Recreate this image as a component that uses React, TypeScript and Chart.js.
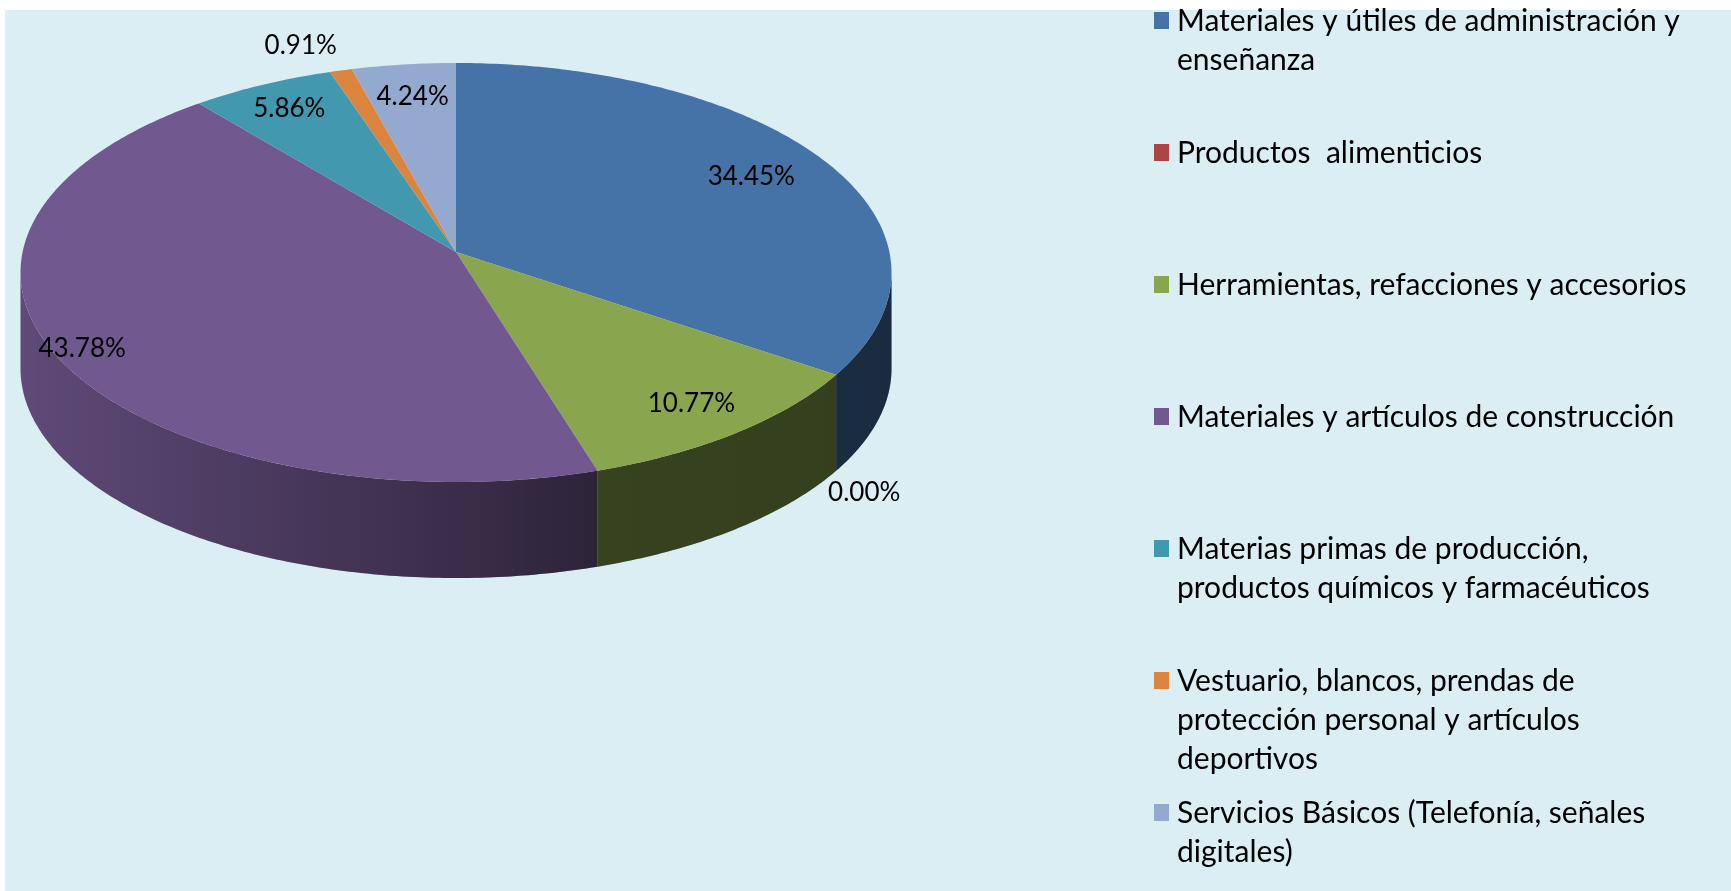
import React, { useEffect, useRef } from "react";
import { Chart, registerables } from "chart.js";
Chart.register(...registerables);

const categories: string[][] = [
  ["Materiales y útiles de administración y", "enseñanza"],
  ["Productos  alimenticios"],
  ["Herramientas, refacciones y accesorios"],
  ["Materiales y artículos de construcción"],
  ["Materias primas de producción,", "productos químicos y farmacéuticos"],
  ["Vestuario, blancos, prendas de", "protección personal y artículos", "deportivos"],
  ["Servicios Básicos (Telefonía, señales", "digitales)"],
];
const values = [34.45, 0.0, 10.77, 43.78, 5.86, 0.91, 4.24];
const topColors = ["#4572A7", "#AA4643", "#89A54E", "#71588F", "#4198AF", "#DB843D", "#93A9CF"];

// projection parameters (3D tilt + perspective)
const K = -0.0979;
const SX = 433.4 / 240;
const SY = 207.5 / 240;
const DEPTH = 96;
const LABEL_FONT = "26px Lato";
const LEGEND_FONT = "30px Lato";

function proj(cx: number, cy: number, r: number, ang: number, f: number): [number, number] {
  const u = Math.cos(ang) * f;
  const v = Math.sin(ang) * f;
  const w = 1 + K * v;
  return [cx + (r * SX * u) / w, cy + (r * SY * v) / w];
}

function arcProps(arc: any) {
  return arc.getProps(["x", "y", "startAngle", "endAngle", "outerRadius"], true);
}

const pie3d = {
  id: "pie3d",
  beforeDatasetsDraw(chart: any) {
    const ctx: CanvasRenderingContext2D = chart.ctx;
    const meta = chart.getDatasetMeta(0);
    const arcs = meta.data;
    if (!arcs.length) return false;
    const p0 = arcProps(arcs[0]);
    const cx = p0.x, cy = p0.y, r = p0.outerRadius;
    const aS = Math.asin(-K);
    const aE = Math.PI - aS;
    const xl = proj(cx, cy, r, aE, 1)[0];
    const xr = proj(cx, cy, r, aS, 1)[0];
    ctx.save();
    // side walls
    arcs.forEach((arc: any, i: number) => {
      const p = arcProps(arc);
      const s = Math.max(p.startAngle, aS);
      const e = Math.min(p.endAngle, aE);
      if (e <= s) return;
      const n = Math.max(4, Math.ceil((e - s) * 80));
      ctx.beginPath();
      for (let j = 0; j <= n; j++) {
        const a = s + ((e - s) * j) / n;
        const [x, y] = proj(cx, cy, r, a, 1);
        if (j === 0) ctx.moveTo(x, y);
        else ctx.lineTo(x, y);
      }
      for (let j = n; j >= 0; j--) {
        const a = s + ((e - s) * j) / n;
        const [x, y] = proj(cx, cy, r, a, 1);
        ctx.lineTo(x, y + DEPTH);
      }
      ctx.closePath();
      ctx.fillStyle = arc.options.backgroundColor || topColors[i];
      ctx.fill();
      const g = ctx.createLinearGradient(xl, 0, xr, 0);
      g.addColorStop(0, "rgba(0,0,0,0.16)");
      g.addColorStop(0.52, "rgba(0,0,0,0.5)");
      g.addColorStop(0.66, "rgba(0,0,0,0.6)");
      g.addColorStop(1, "rgba(0,0,0,0.62)");
      ctx.fillStyle = g;
      ctx.fill();
    });
    // top faces
    arcs.forEach((arc: any, i: number) => {
      const p = arcProps(arc);
      if (p.endAngle - p.startAngle <= 0) return;
      const n = Math.max(4, Math.ceil((p.endAngle - p.startAngle) * 80));
      ctx.beginPath();
      const [x0, y0] = proj(cx, cy, r, 0, 0);
      ctx.moveTo(x0, y0);
      for (let j = 0; j <= n; j++) {
        const a = p.startAngle + ((p.endAngle - p.startAngle) * j) / n;
        const [x, y] = proj(cx, cy, r, a, 1);
        ctx.lineTo(x, y);
      }
      ctx.closePath();
      ctx.fillStyle = arc.options.backgroundColor || topColors[i];
      ctx.fill();
    });
    ctx.restore();
    return false;
  },
  afterDraw(chart: any) {
    const ctx: CanvasRenderingContext2D = chart.ctx;
    const meta = chart.getDatasetMeta(0);
    const data = chart.data.datasets[0].data as number[];
    ctx.save();
    // data labels
    ctx.font = LABEL_FONT;
    ctx.fillStyle = "#000";
    ctx.textBaseline = "middle";
    meta.data.forEach((arc: any, i: number) => {
      const p = arcProps(arc);
      const mid = (p.startAngle + p.endAngle) / 2;
      const txt = data[i].toFixed(2) + "%";
      if (data[i] >= 2) {
        const front = Math.sin(mid) > 0;
        const f = (front ? 0.85 : 0.8) + 0.1 * Math.max(0, -Math.cos(mid));
        const [x, y] = proj(p.x, p.y, p.outerRadius, mid, f);
        ctx.textAlign = "center";
        ctx.fillText(txt, x, y);
      } else {
        let [x, y] = proj(p.x, p.y, p.outerRadius, mid, 1);
        const front = Math.sin(mid) > 0;
        if (front) y += DEPTH;
        const right = Math.cos(mid) >= 0;
        ctx.textAlign = right ? "left" : "right";
        ctx.fillText(txt, x + (right ? -8 : -4), y + (front ? 22 : -25));
      }
    });
    // legend
    ctx.font = LEGEND_FONT;
    ctx.textBaseline = "middle";
    ctx.textAlign = "left";
    const x0 = 1154, y0 = 21, step = 132, lh = 39;
    categories.forEach((lines, i) => {
      const y = y0 + step * i;
      ctx.fillStyle = topColors[i];
      ctx.fillRect(x0, y - 9, 15, 17);
      ctx.fillStyle = "#000";
      lines.forEach((ln, j) => ctx.fillText(ln, x0 + 23, y + j * lh));
    });
    ctx.restore();
  },
};

export default function App() {
  const ref = useRef<HTMLCanvasElement>(null);
  useEffect(() => {
    document.body.style.margin = "0";
    const chart = new Chart(ref.current!, {
      type: "pie",
      data: {
        labels: categories.map((c) => c.join(" ")),
        datasets: [
          {
            data: values,
            backgroundColor: topColors,
            borderWidth: 0,
            hoverOffset: 0,
          },
        ],
      },
      options: {
        responsive: false,
        animation: false,
        events: [],
        layout: { padding: { left: 216, right: 1035, top: 12, bottom: 399 } },
        plugins: { legend: { display: false }, tooltip: { enabled: false } },
      },
      plugins: [pie3d],
    });
    return () => chart.destroy();
  }, []);
  return (
    <div style={{ position: "relative", width: 1731, height: 891, background: "#fff", overflow: "hidden" }}>
      <div style={{ position: "absolute", left: 5, top: 10, right: 0, bottom: 0, background: "#DBEEF4" }} />
      <canvas ref={ref} width={1731} height={891} style={{ position: "absolute", left: 0, top: 0 }} />
    </div>
  );
}
